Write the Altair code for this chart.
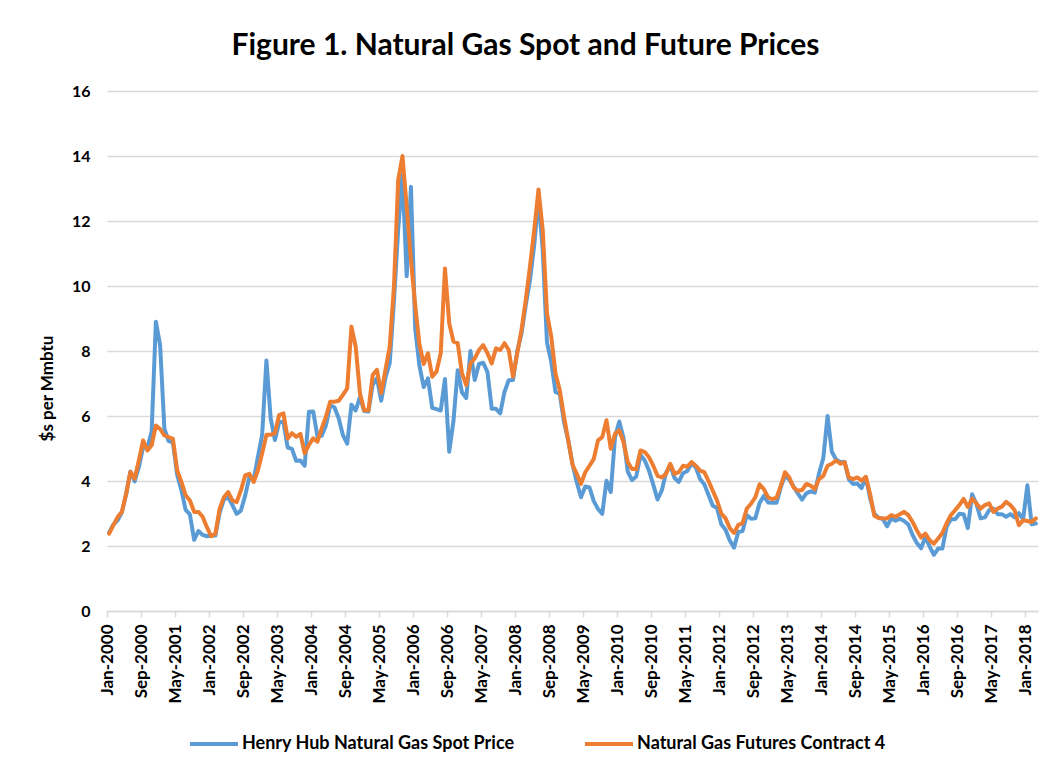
import altair as alt
import pandas as pd

# Henry Hub natural gas spot price, monthly, Jan-2000 .. Mar-2018 ($ per MMBtu)
spot = [
    2.42, 2.66, 2.79, 3.04, 3.59, 4.29, 3.99, 4.43, 5.06, 5.02, 5.52, 8.90,
    8.17, 5.61, 5.23, 5.19, 4.19, 3.72, 3.11, 2.97, 2.19, 2.46, 2.34, 2.30,
    2.32, 2.32, 3.03, 3.43, 3.50, 3.26, 2.99, 3.09, 3.55, 4.13, 4.04, 4.74,
    5.43, 7.71, 5.93, 5.26, 5.81, 5.82, 5.03, 4.99, 4.62, 4.63, 4.47, 6.13,
    6.14, 5.37, 5.39, 5.71, 6.33, 6.27, 5.93, 5.41, 5.15, 6.35, 6.17, 6.58,
    6.15, 6.14, 6.96, 7.16, 6.47, 7.18, 7.63, 9.53, 11.75, 13.42, 10.30, 13.05,
    8.69, 7.54, 6.89, 7.16, 6.25, 6.21, 6.17, 7.14, 4.90, 5.85, 7.41, 6.73,
    6.55, 8.00, 7.11, 7.60, 7.64, 7.35, 6.22, 6.22, 6.08, 6.74, 7.10, 7.11,
    7.99, 8.54, 9.41, 10.18, 11.27, 12.69, 11.09, 8.26, 7.67, 6.74, 6.68, 5.82,
    5.24, 4.52, 3.96, 3.50, 3.83, 3.80, 3.38, 3.14, 2.99, 4.01, 3.66, 5.35,
    5.83, 5.32, 4.29, 4.03, 4.14, 4.80, 4.63, 4.32, 3.89, 3.43, 3.71, 4.25,
    4.49, 4.09, 3.97, 4.24, 4.31, 4.54, 4.42, 4.06, 3.90, 3.57, 3.24, 3.17,
    2.67, 2.50, 2.17, 1.95, 2.43, 2.46, 2.95, 2.84, 2.85, 3.32, 3.54, 3.34,
    3.33, 3.33, 3.81, 4.17, 4.04, 3.83, 3.62, 3.43, 3.62, 3.68, 3.64, 4.24,
    4.71, 6.00, 4.90, 4.66, 4.58, 4.59, 4.05, 3.91, 3.92, 3.78, 4.12, 3.48,
    2.99, 2.87, 2.83, 2.61, 2.85, 2.78, 2.84, 2.77, 2.66, 2.34, 2.09, 1.93,
    2.28, 1.99, 1.73, 1.92, 1.92, 2.59, 2.82, 2.82, 2.99, 2.98, 2.55, 3.59,
    3.30, 2.85, 2.88, 3.10, 3.15, 2.98, 2.98, 2.90, 2.98, 2.88, 3.01, 2.82,
    3.87, 2.67, 2.69,
]

# Natural gas futures contract 4, monthly, Jan-2000 .. Mar-2018
futures = [
    2.38, 2.64, 2.89, 3.05, 3.60, 4.28, 4.07, 4.64, 5.25, 4.94, 5.10, 5.71,
    5.60, 5.40, 5.35, 5.30, 4.33, 3.97, 3.56, 3.40, 3.05, 3.05, 2.90, 2.58,
    2.30, 2.38, 3.15, 3.50, 3.66, 3.40, 3.35, 3.71, 4.17, 4.22, 3.97, 4.33,
    4.85, 5.42, 5.42, 5.47, 6.03, 6.08, 5.31, 5.47, 5.36, 5.45, 4.85, 5.11,
    5.31, 5.21, 5.62, 5.98, 6.44, 6.44, 6.47, 6.65, 6.85, 8.75, 8.13, 6.70,
    6.18, 6.18, 7.26, 7.42, 6.70, 7.42, 8.13, 9.98, 13.26, 14.00, 12.44, 10.80,
    9.40, 8.20, 7.60, 7.93, 7.21, 7.36, 7.93, 10.54, 8.85, 8.29, 8.24, 7.31,
    6.95, 7.62, 7.77, 8.03, 8.18, 7.93, 7.62, 8.08, 8.03, 8.24, 8.03, 7.21,
    7.93, 8.65, 9.57, 10.60, 11.72, 12.97, 11.72, 9.16, 8.44, 7.31, 6.80, 5.98,
    5.25, 4.50, 4.22, 3.91, 4.27, 4.47, 4.68, 5.25, 5.35, 5.87, 4.99, 5.45,
    5.56, 5.20, 4.58, 4.37, 4.37, 4.94, 4.89, 4.73, 4.47, 4.16, 4.11, 4.22,
    4.53, 4.22, 4.27, 4.47, 4.44, 4.58, 4.47, 4.32, 4.27, 4.00, 3.70, 3.40,
    3.00, 2.85, 2.55, 2.40, 2.65, 2.70, 3.15, 3.30, 3.50, 3.90, 3.75, 3.50,
    3.44, 3.49, 3.86, 4.27, 4.11, 3.80, 3.70, 3.72, 3.91, 3.86, 3.75, 4.06,
    4.16, 4.47, 4.53, 4.63, 4.53, 4.58, 4.11, 4.06, 4.11, 4.01, 4.13, 3.60,
    2.93, 2.86, 2.85, 2.85, 2.95, 2.90, 2.98, 3.05, 2.95, 2.74, 2.48, 2.26,
    2.38, 2.18, 2.07, 2.23, 2.40, 2.70, 2.95, 3.10, 3.26, 3.45, 3.20, 3.46,
    3.31, 3.15, 3.26, 3.31, 3.05, 3.15, 3.21, 3.36, 3.26, 3.10, 2.64, 2.79,
    2.77, 2.74, 2.85,
]

months = [d.strftime("%b-%Y") for d in pd.date_range("2000-01-01", periods=len(spot), freq="MS")]
tick_labels = months[::8]
y_ticks = [0, 2, 4, 6, 8, 10, 12, 14, 16]

SPOT = "Henry Hub Natural Gas Spot Price"
FUT = "Natural Gas Futures Contract 4"
series_names = [SPOT, FUT]
series_colors = ["#5B9BD5", "#ED7D31"]

df = pd.DataFrame({
    "month": months + months,
    "price": spot + futures,
    "series": [SPOT] * len(spot) + [FUT] * len(futures),
})

FONT = "Lato"

chart = alt.Chart(df).mark_line(
    strokeWidth=4, strokeJoin="round", strokeCap="round"
).encode(
    x=alt.X(
        "month:O",
        sort=months,
        scale=alt.Scale(type="point", padding=0.5),
        axis=alt.Axis(
            values=tick_labels,
            title=None,
            labelAngle=-90,
            labelFont=FONT,
            labelFontSize=17,
            labelFontWeight="bold",
            labelColor="#000000",
            labelPadding=7,
            labelOverlap=False,
            domainColor="#d9d9d9",
            domainWidth=1.5,
            tickColor="#d9d9d9",
            tickWidth=1.5,
            tickSize=6,
            tickOffset=-2,
            grid=False,
        ),
    ),
    y=alt.Y(
        "price:Q",
        scale=alt.Scale(domain=[0, 16], nice=False, zero=True),
        axis=alt.Axis(
            values=y_ticks,
            title="$s per Mmbtu",
            titleFont=FONT,
            titleFontSize=17,
            titleFontWeight="bold",
            titleColor="#000000",
            titlePadding=15,
            titleY=297,
            labelFont=FONT,
            labelFontSize=16,
            labelFontWeight="bold",
            labelColor="#000000",
            labelPadding=17,
            domain=False,
            ticks=False,
            gridColor="#d9d9d9",
            gridWidth=1.5,
        ),
    ),
    color=alt.Color(
        "series:N",
        sort=series_names,
        scale=alt.Scale(domain=series_names, range=series_colors),
        legend=alt.Legend(
            title=None,
            orient="none",
            direction="horizontal",
            legendX=81,
            legendY=627,
            symbolType="stroke",
            symbolSize=2304,
            symbolStrokeWidth=4,
            labelFont=FONT,
            labelFontSize=18,
            labelFontWeight="bold",
            labelColor="#000000",
            labelLimit=0,
            labelOffset=2,
            columnPadding=62,
        ),
    ),
).properties(
    width=931,
    height=520,
    title=alt.TitleParams(
        "Figure 1. Natural Gas Spot and Future Prices",
        font=FONT,
        fontSize=30,
        fontWeight="bold",
        color="#000000",
        anchor="middle",
        dx=-47,
        offset=22,
    ),
    autosize=alt.AutoSizeParams(type="none"),
    padding={"left": 99, "top": 83, "right": 14, "bottom": 160},
    background="#ffffff",
).configure_view(stroke=None)

chart.save("out.html", embed_options={"renderer": "svg", "actions": False})
